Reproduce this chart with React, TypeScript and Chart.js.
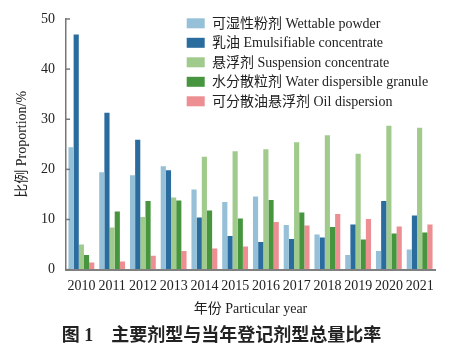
import React, { useEffect, useRef } from "react";
import { Chart, registerables } from "chart.js";

Chart.register(...registerables);

const years = ["2010", "2011", "2012", "2013", "2014", "2015", "2016", "2017", "2018", "2019", "2020", "2021"];
const wettablePowder = [24.4, 19.4, 18.8, 20.6, 16.0, 13.5, 14.6, 8.9, 7.0, 2.9, 3.7, 4.0];
const emulsifiable = [46.9, 31.3, 25.9, 19.8, 10.4, 6.7, 5.5, 6.1, 6.4, 9.0, 13.7, 10.8];
const suspension = [5.0, 8.4, 10.5, 14.4, 22.5, 23.6, 24.0, 25.4, 26.8, 23.1, 28.7, 28.3];
const waterDispersible = [2.9, 11.6, 13.7, 13.8, 11.8, 10.2, 13.9, 11.4, 8.5, 6.0, 7.2, 7.4];
const oilDispersion = [1.4, 1.6, 2.75, 3.7, 4.2, 4.6, 9.5, 8.8, 11.1, 10.1, 8.6, 9.0];
const seriesLabels = [
  "可湿性粉剂 Wettable powder",
  "乳油 Emulsifiable concentrate",
  "悬浮剂 Suspension concentrate",
  "水分散粒剂 Water dispersible granule",
  "可分散油悬浮剂 Oil dispersion",
];
const seriesColors = ["#95c0d7", "#2b6c9f", "#a0cb8d", "#47963f", "#ec8e92"];

const FONT = "'Liberation Serif', 'Noto Sans CJK SC', serif";
const TEXT = "#222";

const innerTicks = {
  id: "innerTicks",
  afterDraw(chart: any) {
    const ys = chart.scales.y;
    const ctx = chart.ctx;
    ctx.save();
    ctx.strokeStyle = "#777";
    ctx.lineWidth = 1.5;
    ys.ticks.forEach((t: any) => {
      const py = ys.getPixelForValue(t.value);
      ctx.beginPath();
      ctx.moveTo(chart.chartArea.left, py);
      ctx.lineTo(chart.chartArea.left + 4, py);
      ctx.stroke();
    });
    ctx.restore();
  },
};

const insideLegend = {
  id: "insideLegend",
  afterDraw(chart: any) {
    const ctx = chart.ctx;
    ctx.save();
    ctx.font = `14px ${FONT}`;
    ctx.textBaseline = "middle";
    ctx.textAlign = "left";
    chart.data.datasets.forEach((ds: any, i: number) => {
      const cy = 15.3 + i * 19.5;
      ctx.fillStyle = ds.backgroundColor;
      ctx.fillRect(178.7, cy - 5, 18, 10);
      ctx.fillStyle = TEXT;
      ctx.fillText(ds.label, 204, cy + 1);
    });
    ctx.restore();
  },
};

export default function App() {
  const ref = useRef<HTMLCanvasElement>(null);
  useEffect(() => {
    if (!ref.current) return;
    const values = [wettablePowder, emulsifiable, suspension, waterDispersible, oilDispersion];
    const chart = new Chart(ref.current, {
      type: "bar",
      data: {
        labels: years,
        datasets: values.map((v, i) => ({
          label: seriesLabels[i],
          data: v,
          backgroundColor: seriesColors[i],
          borderWidth: 0,
          categoryPercentage: 0.84,
          barPercentage: 1,
        })),
      },
      options: {
        responsive: false,
        animation: false,
        layout: { padding: { left: 0, right: 13, top: 11, bottom: 0.2 } },
        plugins: {
          legend: { display: false },
          tooltip: { enabled: false },
          title: {
            display: true,
            position: "bottom",
            text: "图 1\u3000主要剂型与当年登记剂型总量比率",
            color: TEXT,
            font: { family: FONT, size: 18, weight: "bold", lineHeight: 1.2 },
            padding: 0,
          },
        },
        scales: {
          x: {
            grid: { display: true, drawOnChartArea: false, drawTicks: false },
            border: { display: true, color: "#808080", width: 2 },
            ticks: { color: TEXT, font: { family: FONT, size: 14 }, padding: 8.6, maxRotation: 0, autoSkip: false },
            title: {
              display: true,
              text: "年份 Particular year",
              color: TEXT,
              font: { family: FONT, size: 14, lineHeight: 1.2 },
              padding: { top: 0, bottom: 7.4 },
            },
            afterFit(scale: any) {
              scale.height = 55.6;
            },
          },
          y: {
            min: 0,
            max: 50,
            ticks: { stepSize: 10, color: TEXT, font: { family: FONT, size: 14 }, padding: 11 },
            grid: { display: true, drawOnChartArea: false, drawTicks: false },
            border: { display: true, color: "#777", width: 1.5 },
            title: {
              display: true,
              text: "比例 Proportion/%",
              color: TEXT,
              font: { family: FONT, size: 14, lineHeight: 1.2 },
              padding: { top: 5.6, bottom: 0 },
            },
            afterFit(scale: any) {
              scale.width = 58;
              scale.paddingTop = 0;
              scale.paddingBottom = 0;
            },
          },
        },
      },
      plugins: [innerTicks, insideLegend],
    });
    return () => chart.destroy();
  }, []);
  return <canvas ref={ref} width={440} height={339} style={{ display: "block" }} />;
}
